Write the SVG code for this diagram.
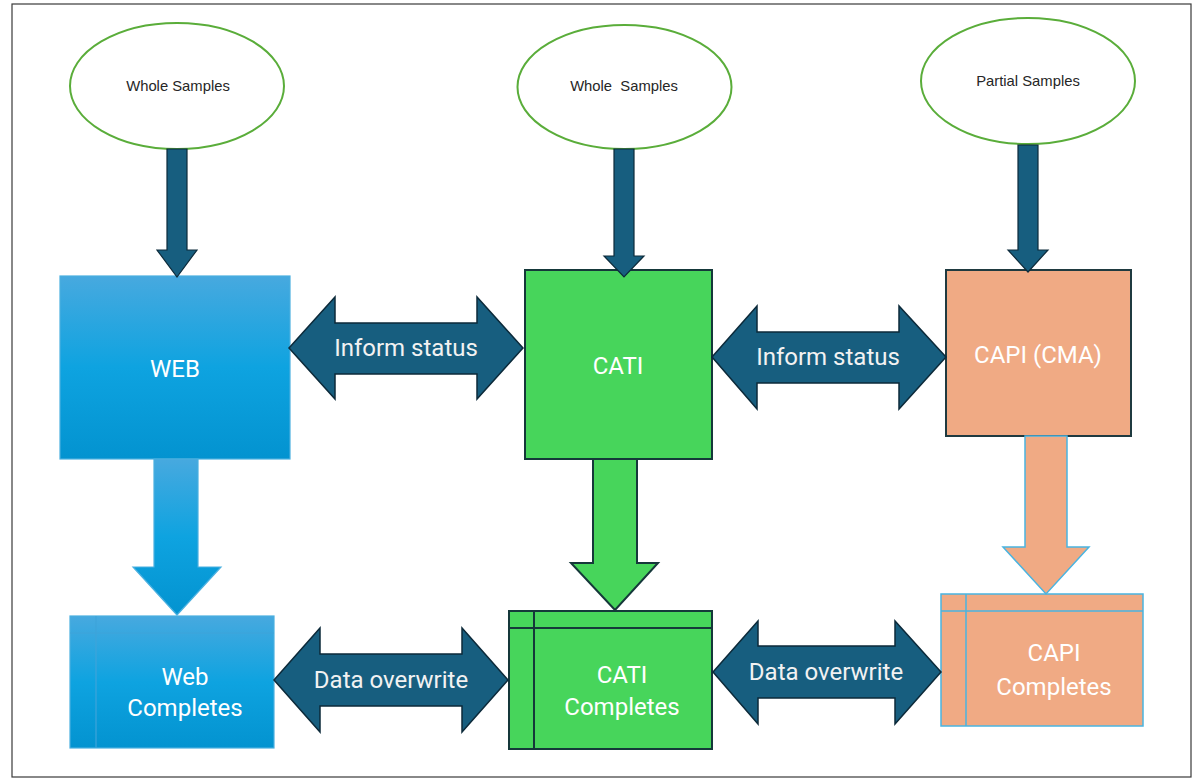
<svg xmlns="http://www.w3.org/2000/svg" width="1192" height="779" viewBox="0 0 1192 779">
  <defs>
    <linearGradient id="blueFill" x1="0" y1="0" x2="0" y2="1">
      <stop offset="0" stop-color="#47a9df"/>
      <stop offset="0.5" stop-color="#0ea3e0"/>
      <stop offset="1" stop-color="#0393d0"/>
    </linearGradient>
    <style>
      .frame { fill: #ffffff; stroke: #3a3a3a; stroke-width: 1.2; }
      .sample { fill: #ffffff; stroke: #5aad3a; stroke-width: 2; }
      .sampleText { font-family: "Liberation Sans", Arial, sans-serif; font-size: 14.8px; fill: #262626; text-anchor: middle; }
      .feed { fill: #175e7f; stroke: #0c2a3a; stroke-width: 1.2; }
      .link { fill: #175e7f; stroke: #0c2a3a; stroke-width: 1.5; }
      .linkText { font-family: Roboto, "Liberation Sans", sans-serif; font-size: 24px; fill: #f2f2f2; text-anchor: middle; }
      .nodeText { font-family: Roboto, "Liberation Sans", sans-serif; font-size: 24px; fill: #ffffff; text-anchor: middle; }
      .web { fill: url(#blueFill); stroke: #4ab0e0; stroke-width: 1.2; }
      .webLine { stroke: #3ea4da; stroke-width: 1.2; fill: none; }
      .cati { fill: #47d55b; stroke: #15383a; stroke-width: 2; }
      .catiLine { stroke: #15383a; stroke-width: 2; fill: none; }
      .capi { fill: #f0aa84; stroke: #1f3a40; stroke-width: 2; }
      .capiSoft { fill: #f0aa84; stroke: #4ab4e0; stroke-width: 1.5; }
      .capiLine { stroke: #4ab4e0; stroke-width: 1.5; fill: none; }
    </style>
  </defs>

  <!-- outer frame -->
  <rect class="frame" x="12" y="4" width="1179" height="773"/>

  <!-- sample sources -->
  <g id="sample-web">
    <ellipse class="sample" cx="177" cy="86" rx="107" ry="63"/>
    <text class="sampleText" x="178" y="91">Whole Samples</text>
  </g>
  <g id="sample-cati">
    <ellipse class="sample" cx="624.5" cy="87" rx="107" ry="62"/>
    <text class="sampleText" x="624" y="91" xml:space="preserve">Whole  Samples</text>
  </g>
  <g id="sample-capi">
    <ellipse class="sample" cx="1028" cy="81" rx="107" ry="63"/>
    <text class="sampleText" x="1028" y="86">Partial Samples</text>
  </g>

  <!-- mode nodes -->
  <g id="node-web">
    <rect class="web" x="60" y="276" width="230" height="183"/>
    <text class="nodeText" x="175" y="377">WEB</text>
  </g>
  <g id="node-cati">
    <rect class="cati" x="525" y="270" width="187" height="189"/>
    <text class="nodeText" x="618" y="374">CATI</text>
  </g>
  <g id="node-capi">
    <rect class="capi" x="946" y="270" width="185" height="166"/>
    <text class="nodeText" x="1038" y="363">CAPI (CMA)</text>
  </g>

  <!-- completes stores -->
  <g id="store-web">
    <rect class="web" x="70" y="616" width="204" height="132"/>
    <path class="webLine" d="M70 633 H274 M96 616 V748"/>
    <text class="nodeText" x="185" y="685">Web</text>
    <text class="nodeText" x="185" y="716">Completes</text>
  </g>
  <g id="store-cati">
    <rect class="cati" x="509" y="611" width="203" height="138"/>
    <path class="catiLine" d="M509 628 H712 M534 611 V749"/>
    <text class="nodeText" x="622" y="683">CATI</text>
    <text class="nodeText" x="622" y="715">Completes</text>
  </g>
  <g id="store-capi">
    <rect class="capiSoft" x="941" y="594" width="202" height="132"/>
    <path class="capiLine" d="M941 611 H1143 M966 594 V726"/>
    <text class="nodeText" x="1054" y="661">CAPI</text>
    <text class="nodeText" x="1054" y="695">Completes</text>
  </g>

  <!-- connectors -->
  <g id="connectors">
    <!-- sample feeds -->
    <path class="feed" d="M167 149 H187 V250 H197 L177 277 L157 250 H167 Z"/>
    <path class="feed" d="M614 149 H634 V256 H644 L624 277 L604 256 H614 Z"/>
    <path class="feed" d="M1018 145 H1038 V250 H1048 L1028 272 L1008 250 H1018 Z"/>

    <!-- mode to completes -->
    <path class="web" d="M154 459 H198 V567 H221 L177 615 L133 567 H154 Z"/>
    <path class="cati" d="M593 459 H637 V563 H658 L615 610 L571 563 H593 Z"/>
    <path class="capiSoft" d="M1025 436 H1067 V547 H1089 L1046 594 L1003 547 H1025 Z"/>

    <!-- inform status links -->
    <path class="link" d="M289 348 L335 297 V323 H477 V297 L523 348 L477 399 V374 H335 V399 Z"/>
    <text class="linkText" x="406" y="356">Inform status</text>
    <path class="link" d="M712 357 L757 306 V332 H899 V306 L946 357 L899 409 V383 H757 V409 Z"/>
    <text class="linkText" x="828" y="365">Inform status</text>

    <!-- data overwrite links -->
    <path class="link" d="M274 680 L320 628 V654 H462 V628 L508 680 L462 732 V706 H320 V732 Z"/>
    <text class="linkText" x="391" y="688">Data overwrite</text>
    <path class="link" d="M713 672 L758 621 V646 H895 V621 L941 672 L895 724 V698 H758 V724 Z"/>
    <text class="linkText" x="826" y="680">Data overwrite</text>
  </g>
</svg>
